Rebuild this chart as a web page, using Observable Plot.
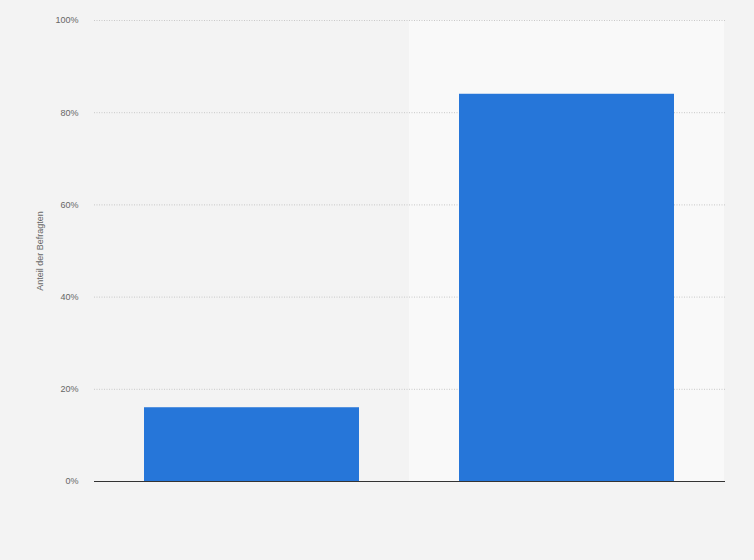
<!DOCTYPE html>
<html>
<head>
<meta charset="utf-8">
<script src="https://cdn.jsdelivr.net/npm/d3@7"></script>
<script src="https://cdn.jsdelivr.net/npm/@observablehq/plot@0.6"></script>
<style>
  html, body { margin: 0; padding: 0; background: #f3f3f3; }
  #chart svg { display: block; }
</style>
</head>
<body>
<div id="chart"></div>
<script>
const categories = ["Ja", "Nein"];
const values = [16, 84];
const yTicks = [0, 20, 40, 60, 80, 100];
const yLabel = "Anteil der Befragten";

const data = categories.map((c, i) => ({category: c, value: values[i]}));
const shaded = [categories[1]];

const chart = Plot.plot({
  width: 754,
  height: 560,
  marginLeft: 94,
  marginRight: 29,
  marginTop: 20,
  marginBottom: 79,
  style: {background: "#f3f3f3", fontFamily: "Arial, 'Liberation Sans', sans-serif", fontSize: "9px", color: "#666"},
  x: {domain: categories, paddingInner: 0.316, paddingOuter: 0.158, axis: null},
  y: {domain: [0, 100], ticks: yTicks, tickFormat: d => d + "%", label: null},
  marks: [
    Plot.barY(shaded, {x: d => d, y1: 0, y2: 100, fill: "#f9f9f9", insetLeft: -50, insetRight: -50}),
    Plot.gridY(yTicks, {stroke: "#c8c8c8", strokeOpacity: 1, strokeDasharray: "1,1.5", strokeWidth: 1}),
    Plot.axisY(yTicks, {tickSize: 0, tickPadding: 16, tickFormat: d => d + "%", fill: "#666", fontSize: 9, label: null}),
    Plot.barY(data, {x: "category", y: "value", fill: "#2676d9"}),
    Plot.ruleY([0], {stroke: "#333", strokeWidth: 1}),
    Plot.text([yLabel], {frameAnchor: "left", dx: -54, rotate: -90, text: d => d, fill: "#666", fontSize: 9, textAnchor: "middle"})
  ]
});
document.getElementById("chart").append(chart);
</script>
</body>
</html>
